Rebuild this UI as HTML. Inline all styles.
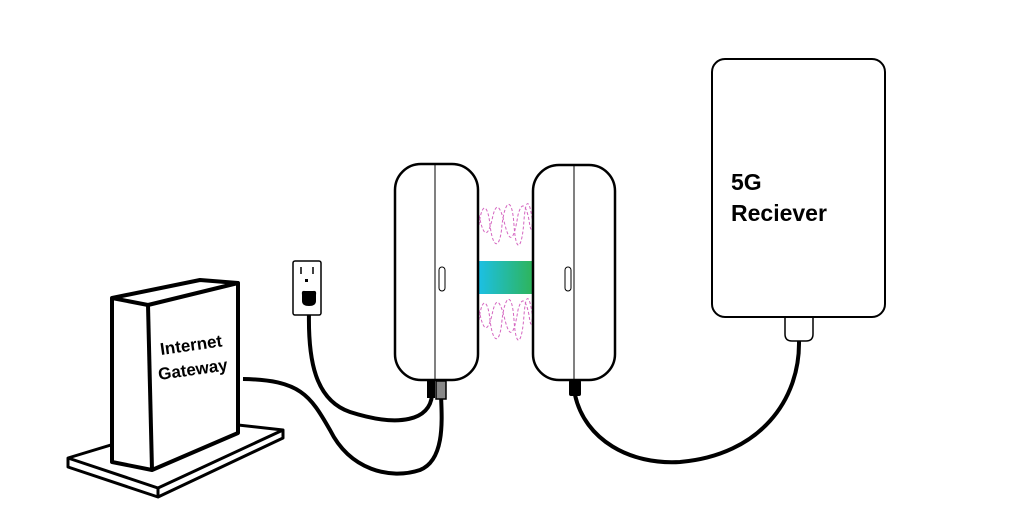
<!DOCTYPE html>
<html><head><style>html,body{margin:0;padding:0;background:#fff}svg{display:block}</style></head>
<body>
<svg width="1024" height="512" viewBox="0 0 1024 512" xmlns="http://www.w3.org/2000/svg">
<defs><linearGradient id="g" x1="0" x2="1"><stop offset="0" stop-color="#1cc0e6"/><stop offset="1" stop-color="#2eb45a"/></linearGradient></defs>
<!-- base plate -->
<polygon points="68,467 158,497 283,438 283,430 193,420 68,458" fill="#fff" stroke="#000" stroke-width="3" stroke-linejoin="round"/>
<polyline points="68,458 158,488 283,430" fill="none" stroke="#000" stroke-width="3"/>
<line x1="158" y1="488" x2="158" y2="497" stroke="#000" stroke-width="3"/>
<!-- gateway -->
<polygon points="112,298 200,280 238,283 238,433 152,470 112,462" fill="#fff" stroke="#000" stroke-width="4" stroke-linejoin="round"/>
<polyline points="112,298 148,305 238,283" fill="none" stroke="#000" stroke-width="4" stroke-linejoin="round"/>
<line x1="148" y1="305" x2="152" y2="470" stroke="#000" stroke-width="4"/>
<text transform="translate(161,355) rotate(-8)" font-family="Liberation Sans, sans-serif" font-size="17" font-weight="bold">Internet</text>
<text transform="translate(159,380) rotate(-8)" font-family="Liberation Sans, sans-serif" font-size="17" font-weight="bold">Gateway</text>
<!-- cables -->
<path d="M243,379 C300,380 310,395 330,430 C350,470 390,480 420,470 C445,460 442,420 441,395" fill="none" stroke="#000" stroke-width="4"/>
<path d="M309,312 C308,360 315,400 350,412 C400,428 430,420 432,395" fill="none" stroke="#000" stroke-width="4"/>
<path d="M575,395 C585,440 630,465 680,462 C760,455 800,400 799,341" fill="none" stroke="#000" stroke-width="4"/>
<!-- outlet -->
<rect x="293" y="261" width="28" height="54" rx="2" fill="#fff" stroke="#000" stroke-width="1.5"/>
<line x1="301" y1="267" x2="301" y2="274" stroke="#000" stroke-width="1.5"/>
<line x1="313" y1="267" x2="313" y2="274" stroke="#000" stroke-width="1.5"/>
<rect x="305" y="279" width="3" height="3" fill="#000"/>
<path d="M302,295 Q301,290 305,291 L313,291 Q317,290 316,295 L316,301 Q316,306 309,306 Q302,306 302,301 Z" fill="#000"/>
<!-- plugs -->
<rect x="427" y="380" width="8" height="18" fill="#000"/>
<rect x="436" y="381" width="10" height="18" fill="#888" stroke="#000" stroke-width="1.5"/>
<rect x="569" y="380" width="12" height="16" rx="2" fill="#000"/>
<!-- waves -->
<g fill="none" stroke="#d466c0" stroke-width="1" stroke-dasharray="3,2">
<path d="M479,225 C482,200 488,205 490,225 C493,250 500,250 502,225 C505,200 512,195 514,225 C516,255 522,250 524,220 C526,195 530,200 533,225"/>
<path d="M479,215 C483,235 487,240 492,220 C496,200 500,205 505,225 C510,245 514,240 518,215 C522,200 526,205 529,220 C531,235 532,230 533,215"/>
<path d="M479,320 C482,295 488,300 490,320 C493,345 500,345 502,320 C505,295 512,290 514,320 C516,350 522,345 524,315 C526,290 530,295 533,320"/>
<path d="M479,310 C483,330 487,335 492,315 C496,295 500,300 505,320 C510,340 514,335 518,310 C522,295 526,300 529,315 C531,330 532,325 533,310"/>
</g>
<rect x="478" y="261" width="55" height="33" fill="url(#g)"/>
<!-- units -->
<rect x="395" y="164" width="83" height="216" rx="26" fill="#fff" stroke="#000" stroke-width="2.5"/>
<line x1="435" y1="164" x2="435" y2="380" stroke="#000" stroke-width="1"/>
<rect x="439" y="267" width="6" height="24" rx="3" fill="#fff" stroke="#000" stroke-width="1"/>
<rect x="533" y="165" width="82" height="215" rx="26" fill="#fff" stroke="#000" stroke-width="2.5"/>
<line x1="574" y1="165" x2="574" y2="380" stroke="#000" stroke-width="1"/>
<rect x="565" y="267" width="6" height="24" rx="3" fill="#fff" stroke="#000" stroke-width="1"/>
<!-- receiver -->
<path d="M785,317 L785,334 Q785,341 792,341 L806,341 Q813,341 813,334 L813,317" fill="#fff" stroke="#000" stroke-width="1.5"/>
<rect x="712" y="59" width="173" height="258" rx="13" fill="#fff" stroke="#000" stroke-width="2"/>
<text x="731" y="190" font-family="Liberation Sans, sans-serif" font-size="23" font-weight="bold">5G</text>
<text x="731" y="221" font-family="Liberation Sans, sans-serif" font-size="23" font-weight="bold">Reciever</text>
</svg>
</body></html>
